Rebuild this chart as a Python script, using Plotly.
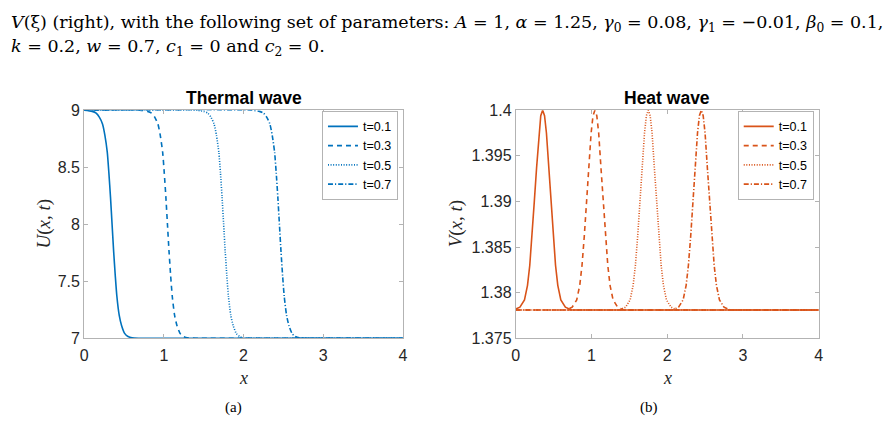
import plotly.graph_objects as go

# ---------------- data ----------------
labels = ["t=0.1", "t=0.3", "t=0.5", "t=0.7"]

u_y_common = [8.99, 8.975, 8.94, 8.88, 8.78, 8.63, 8.45, 8.24, 8.0, 7.76, 7.55, 7.37, 7.2, 7.11, 7.04, 7.015, 7.003, 7, 7]

u_x_01 = [0, 0.10, 0.15, 0.19, 0.23, 0.26, 0.29, 0.31, 0.33, 0.35, 0.37, 0.39, 0.41, 0.44, 0.47, 0.51, 0.55, 0.60, 0.70, 4]
u_y_01 = [9] + u_y_common

u_x_03 = [0, 0.70, 0.795, 0.845, 0.885, 0.925, 0.955, 0.985, 1.005, 1.025, 1.045, 1.065, 1.085, 1.105, 1.135, 1.165, 1.205, 1.245, 1.295, 1.395, 4]
u_y_03 = [9, 9] + u_y_common

u_x_05 = [0, 1.40, 1.50, 1.55, 1.59, 1.63, 1.66, 1.69, 1.71, 1.73, 1.75, 1.77, 1.79, 1.81, 1.84, 1.87, 1.91, 1.95, 2.00, 2.10, 4]
u_y_05 = [9, 9] + u_y_common

u_x_07 = [0, 2.10, 2.20, 2.25, 2.29, 2.33, 2.36, 2.39, 2.41, 2.43, 2.45, 2.47, 2.49, 2.51, 2.54, 2.57, 2.61, 2.65, 2.70, 2.80, 4]
u_y_07 = [9, 9] + u_y_common

v_peak = [1.3784, 1.3792, 1.3808, 1.3830, 1.3862, 1.3900, 1.3937, 1.3975, 1.3994, 1.4,
          1.3994, 1.3975, 1.3937, 1.3900, 1.3862, 1.3830, 1.3808, 1.3792, 1.3784, 1.3781, 1.3781]

v_x_01 = [0, 0.055, 0.115, 0.155, 0.185, 0.215, 0.245, 0.275, 0.305, 0.33, 0.355, 0.38, 0.405, 0.435, 0.465, 0.495, 0.525, 0.555, 0.595, 0.655, 0.735, 4]
v_y_01 = [1.3782] + v_peak

v_x_03 = [0, 0.665, 0.745, 0.805, 0.845, 0.875, 0.905, 0.935, 0.965, 0.995, 1.02, 1.045, 1.07, 1.095, 1.125, 1.155, 1.185, 1.215, 1.245, 1.285, 1.345, 1.425, 4]
v_y_03 = [1.3781, 1.3781] + v_peak

v_x_05 = [0, 1.37, 1.45, 1.51, 1.55, 1.58, 1.61, 1.64, 1.67, 1.70, 1.725, 1.75, 1.775, 1.80, 1.83, 1.86, 1.89, 1.92, 1.95, 1.99, 2.05, 2.13, 4]
v_y_05 = [1.3781, 1.3781] + v_peak

v_x_07 = [0, 2.07, 2.15, 2.21, 2.25, 2.28, 2.31, 2.34, 2.37, 2.40, 2.425, 2.45, 2.475, 2.50, 2.53, 2.56, 2.59, 2.62, 2.65, 2.69, 2.75, 2.83, 4]
v_y_07 = [1.3781, 1.3781] + v_peak

x_ticks = [0, 1, 2, 3, 4]
u_ticks = [7, 7.5, 8, 8.5, 9]
u_ticklabels = ["7", "7.5", "8", "8.5", "9"]
v_ticks = [1.375, 1.38, 1.385, 1.39, 1.395, 1.4]
v_ticklabels = ["1.375", "1.38", "1.385", "1.39", "1.395", "1.4"]

# ---------------- styling ----------------
BLUE = "#0072BD"
ORANGE = "#D95319"
DASHES = ["solid", "5px,4px", "1px,1.6px", "5px,2px,1.2px,2px"]
W, H = 889, 424
SANS = "Liberation Sans, Arial, sans-serif"
SERIF = "Liberation Serif, Times New Roman, serif"

fig = go.Figure()

u_series = [(u_x_01, u_y_01), (u_x_03, u_y_03), (u_x_05, u_y_05), (u_x_07, u_y_07)]
v_series = [(v_x_01, v_y_01), (v_x_03, v_y_03), (v_x_05, v_y_05), (v_x_07, v_y_07)]

for (xs, ys), lab, d in zip(u_series, labels, DASHES):
    fig.add_trace(go.Scatter(x=xs, y=ys, mode="lines", name=lab,
                             line=dict(color=BLUE, width=1.6, dash=d, shape="spline", smoothing=0.6),
                             xaxis="x", yaxis="y", legend="legend"))
for (xs, ys), lab, d in zip(v_series, labels, DASHES):
    fig.add_trace(go.Scatter(x=xs, y=ys, mode="lines", name=lab,
                             line=dict(color=ORANGE, width=1.6, dash=d),
                             xaxis="x2", yaxis="y2", legend="legend2"))

def px(x):
    return x / W

def py(y):
    return 1 - y / H

axis_common = dict(showline=True, mirror="ticks", linecolor="#b3b3b3", linewidth=1,
                   ticks="inside", ticklen=4, tickcolor="#b3b3b3", showgrid=False,
                   zeroline=False, tickfont=dict(family=SANS, size=16, color="#262626"))

legend_common = dict(xanchor="right", yanchor="top", bgcolor="white",
                     bordercolor="#b3b3b3", borderwidth=1, tracegroupgap=0,
                     font=dict(family=SANS, size=12.5, color="#000"))

fig.update_layout(
    width=W, height=H, margin=dict(l=0, r=0, t=0, b=0),
    paper_bgcolor="white", plot_bgcolor="white",
    xaxis=dict(domain=[px(81), px(403)], range=[0, 4], tickvals=x_ticks, anchor="y",
               ticklabelstandoff=3, **axis_common),
    yaxis=dict(domain=[py(344), py(106.5)], range=[7, 9], tickvals=u_ticks, ticktext=u_ticklabels,
               anchor="x", **axis_common),
    xaxis2=dict(domain=[px(517), px(823)], range=[0, 4], tickvals=x_ticks, anchor="y2",
                ticklabelstandoff=3, **axis_common),
    yaxis2=dict(domain=[py(344), py(106.5)], range=[1.375, 1.4], tickvals=v_ticks, ticktext=v_ticklabels,
                anchor="x2", **axis_common),
    legend=dict(x=px(398), y=py(107), **legend_common),
    legend2=dict(x=px(818), y=py(107), **legend_common),
    showlegend=True,
)

ann = []
ann.append(dict(x=px(5), y=py(16), xref="paper", yref="paper", xanchor="left", yanchor="middle",
                showarrow=False, font=dict(family="DejaVu Serif", size=17.5, color="#000"),
                text="<i>V</i>(ξ) (right), with the following set of parameters: <i>A</i> = 1, <i>α</i> = 1.25, "
                     "<i>γ</i><sub>0</sub> = 0.08, <i>γ</i><sub>1</sub> = −0.01, <i>β</i><sub>0</sub> = 0.1,"))
ann.append(dict(x=px(5), y=py(41), xref="paper", yref="paper", xanchor="left", yanchor="middle",
                showarrow=False, font=dict(family="DejaVu Serif", size=17.5, color="#000"),
                text="<i>k</i> = 0.2, <i>w</i> = 0.7, <i>c</i><sub>1</sub> = 0 and <i>c</i><sub>2</sub> = 0."))
ann.append(dict(x=px(242), y=py(94), xref="paper", yref="paper", xanchor="center", yanchor="middle",
                showarrow=False, font=dict(family=SANS, size=17.5, color="#000"),
                text="<b>Thermal wave</b>"))
ann.append(dict(x=px(670), y=py(94), xref="paper", yref="paper", xanchor="center", yanchor="middle",
                showarrow=False, font=dict(family=SANS, size=17.5, color="#000"),
                text="<b>Heat wave</b>"))
ann.append(dict(x=px(40), y=py(225), xref="paper", yref="paper", xanchor="center", yanchor="middle",
                showarrow=False, textangle=-90, font=dict(family=SERIF, size=19, color="#262626"),
                text="<i>U</i>(<i>x</i>, <i>t</i>)"))
ann.append(dict(x=px(457), y=py(225), xref="paper", yref="paper", xanchor="center", yanchor="middle",
                showarrow=False, textangle=-90, font=dict(family=SERIF, size=19, color="#262626"),
                text="<i>V</i>(<i>x</i>, <i>t</i>)"))
ann.append(dict(x=px(242), y=py(385), xref="paper", yref="paper", xanchor="center", yanchor="middle",
                showarrow=False, font=dict(family=SERIF, size=18, color="#262626"), text="<i>x</i>"))
ann.append(dict(x=px(670), y=py(385), xref="paper", yref="paper", xanchor="center", yanchor="middle",
                showarrow=False, font=dict(family=SERIF, size=18, color="#262626"), text="<i>x</i>"))
ann.append(dict(x=px(232), y=py(416), xref="paper", yref="paper", xanchor="center", yanchor="middle",
                showarrow=False, font=dict(family=SERIF, size=15, color="#000"), text="(a)"))
ann.append(dict(x=px(652), y=py(416), xref="paper", yref="paper", xanchor="center", yanchor="middle",
                showarrow=False, font=dict(family=SERIF, size=15, color="#000"), text="(b)"))
fig.update_layout(annotations=ann)

fig.write_html("out.html")
